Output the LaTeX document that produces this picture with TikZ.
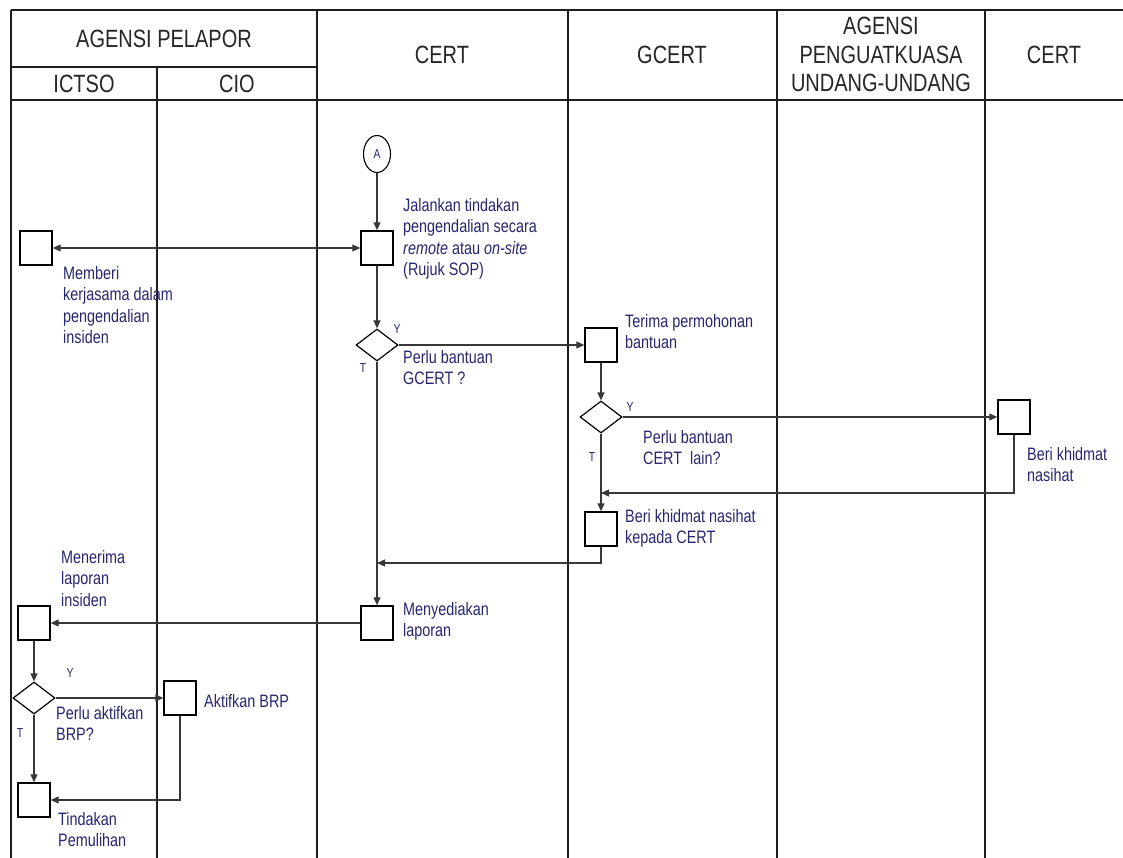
\documentclass[tikz,border=0pt]{standalone}
\usepackage{fontspec}
\setmainfont{Liberation Sans}[FakeStretch=0.8]
\usepackage{xcolor}
\usepackage{tikz}
\usetikzlibrary{arrows.meta,positioning,shapes.geometric,calc}
\definecolor{cLabel}{HTML}{262670}
\definecolor{cFlow}{HTML}{383838}
\definecolor{cLane}{HTML}{1E1E1E}
\definecolor{cHead}{HTML}{262626}
\tikzset{
  box/.style  ={draw=black, line width=1.4pt, minimum width=32pt, minimum height=34pt, inner sep=0pt},
  dec/.style  ={draw=black, diamond, line width=1.2pt, minimum width=42pt, minimum height=32pt, inner sep=0pt},
  conn/.style ={draw=black, ellipse, line width=1.1pt, minimum width=27pt, minimum height=37pt, inner sep=0pt,
                text=cLabel, font=\fontsize{13}{13}\selectfont},
  lbl/.style  ={anchor=north west, inner sep=0pt, align=left, text=cLabel,
                font=\fontsize{18}{21.5}\selectfont},
  yn/.style   ={inner sep=0pt, text=cLabel, font=\fontsize{13}{13}\selectfont},
  hdr/.style  ={inner sep=0pt, align=center, text=cHead, font=\fontsize{25}{28.5}\selectfont},
  lane/.style ={draw=cLane, line width=1.8pt},
  arrow/.style={-{Triangle[length=8pt,width=7pt]}, line width=1.2pt, draw=cFlow},
  darrow/.style={{Triangle[length=8pt,width=7pt]}-{Triangle[length=8pt,width=7pt]}, line width=1.2pt, draw=cFlow},
}

\begin{document}
\begin{tikzpicture}[x=1pt, y=-1pt]
  \useasboundingbox (0,0) rectangle (1123,858);
  % lanes
  \draw[lane] (11,10) -- (1123,10);
  \draw[lane] (11,67) -- (317,67);
  \draw[lane] (11,100) -- (1123,100);
  \foreach \x in {11,317,568,777,985} \draw[lane] (\x,10) -- (\x,858);
  \draw[lane] (157,67) -- (157,858);
  \node[hdr] (hPelapor) at (164,39) {AGENSI PELAPOR};
  \node[hdr] (hIctso)   at (84,84)  {ICTSO};
  \node[hdr] (hCio)     at (237,84) {CIO};
  \node[hdr] (hCert)    at (442,55) {CERT};
  \node[hdr] (hGcert)   at (672,55) {GCERT};
  \node[hdr, anchor=north] (hPenguat) at (881,17) {AGENSI\\PENGUATKUASA\\UNDANG-UNDANG};
  \node[hdr] (hCertB)   at (1054,55) {CERT};

  % steps
  \node[conn] (cA) at (377,154) {A};
  \node[box]  (bJalan)   at (377,248) {};
  \node[box]  (bMemberi) at (36,248) {};
  \node[dec]  (dGcert)   at (377,345) {};
  \node[box]  (bTerima)  at (601,345) {};
  \node[dec]  (dCert)    at (601,417) {};
  \node[box]  (bNasihat) at (1014,417) {};
  \node[box]  (bKepada)  at (601,529) {};
  \node[box]  (bSedia)   at (377,623) {};
  \node[box]  (bTerimaL) at (34,623) {};
  \node[dec]  (dBrp)     at (34,698) {};
  \node[box]  (bAktif)   at (180,698) {};
  \node[box]  (bPulih)   at (34,800) {};
  \coordinate (jGcert) at (601,493);
  \coordinate (jCert)  at (377,563);

  \draw[arrow]  (cA) -- (bJalan);
  \draw[darrow] (bMemberi) -- (bJalan);
  \draw[arrow]  (bJalan) -- (dGcert);
  \draw[arrow]  (dGcert.east) -- (bTerima);
  \draw[arrow]  (bTerima) -- (dCert);
  \draw[arrow]  (dCert.east) -- (bNasihat);
  \draw[arrow]  (dCert.south) -- (bKepada);
  \draw[arrow]  (bNasihat.south) |- (jGcert);
  \draw[arrow]  (dGcert.south) -- (bSedia);
  \draw[arrow]  (bKepada.south) |- (jCert);
  \draw[arrow]  (bSedia) -- (bTerimaL);
  \draw[arrow]  (bTerimaL) -- (dBrp);
  \draw[arrow]  (dBrp.east) -- (bAktif);
  \draw[arrow]  (dBrp.south) -- (bPulih);
  \draw[arrow]  (bAktif.south) |- (bPulih.east);

  % labels
  \node[lbl] (lMemberi) at (63,266)  {Memberi\\kerjasama dalam\\pengendalian\\insiden};
  \node[lbl] (lJalan)   at (403,198) {Jalankan tindakan\\pengendalian secara\\\textit{remote} atau \textit{on-site}\\(Rujuk SOP)};
  \node[lbl] (lPerluG)  at (403,350) {Perlu bantuan\\GCERT ?};
  \node[lbl] (lTerima)  at (625,314) {Terima permohonan\\bantuan};
  \node[lbl] (lPerluC)  at (643,430) {Perlu bantuan\\CERT\ \ lain?};
  \node[lbl] (lNasihat) at (1027,447) {Beri khidmat\\nasihat};
  \node[lbl] (lKepada)  at (625,509) {Beri khidmat nasihat\\kepada CERT};
  \node[lbl] (lTerimaL) at (61,550)  {Menerima\\laporan\\insiden};
  \node[lbl] (lSedia)   at (403,602) {Menyediakan\\laporan};
  \node[lbl] (lAktif)   at (204,694) {Aktifkan BRP};
  \node[lbl] (lPerluA)  at (56,706)  {Perlu aktifkan\\BRP?};
  \node[lbl] (lPulih)   at (58,812)  {Tindakan\\Pemulihan};
  \node[yn] (yG) at (397,329) {Y};
  \node[yn] (tG) at (363,368) {T};
  \node[yn] (yC) at (630,407) {Y};
  \node[yn] (tC) at (592,457) {T};
  \node[yn] (yB) at (70,673)  {Y};
  \node[yn] (tB) at (20,733)  {T};
\end{tikzpicture}
\end{document}
